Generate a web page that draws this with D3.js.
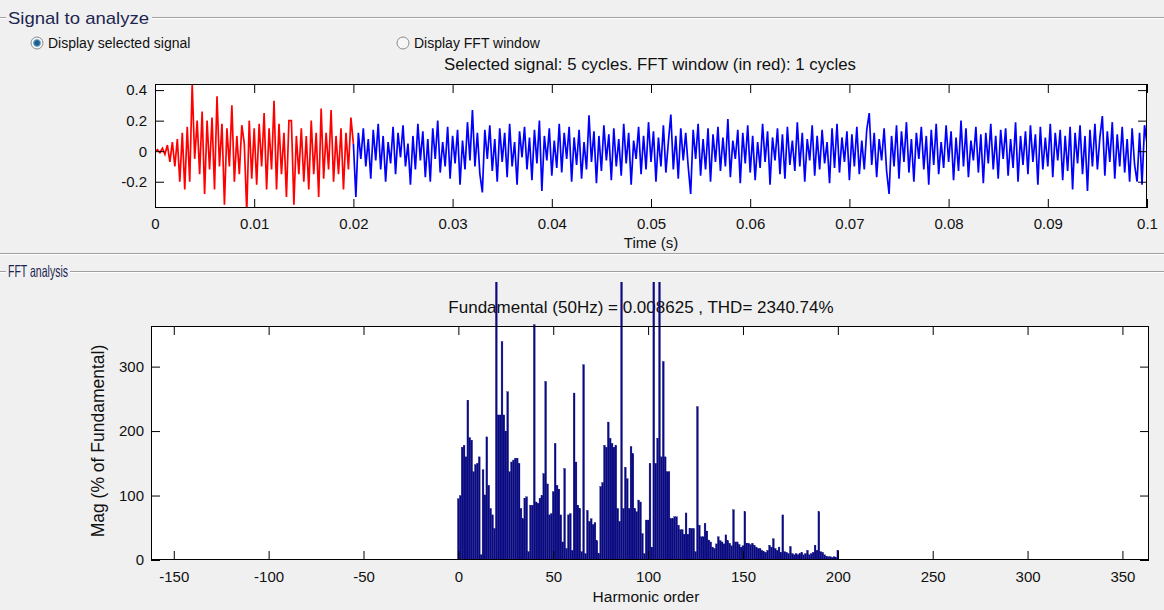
<!DOCTYPE html>
<html>
<head>
<meta charset="utf-8">
<script src="https://cdn.jsdelivr.net/npm/d3@7"></script>
<style>
body{margin:0;background:#f0f0f0;}
svg text{font-family:"Liberation Sans",Arial,sans-serif;fill:#111;}
</style>
</head>
<body>
<svg id="fig" width="1164" height="610"></svg>
<script>
// signal sampled every 0.25 ms, red = FFT window (first cycle), blue = rest
var sampleStep = 0.00025;
var redSignal = [0,0.01,-0.01,0.02,-0.02,0.04,-0.07,0.06,-0.1,0.08,
  -0.2,0.12,-0.25,0.16,-0.2,0.44,-0.05,0.2,-0.15,0.26,
  -0.28,0.2,-0.12,0.22,-0.25,0.36,-0.1,0.18,-0.35,0.15,
  -0.1,0.3,-0.2,0.1,-0.15,0.17,0.05,-0.4,0.2,-0.18,
  0.15,-0.22,0.18,-0.1,0.25,-0.25,0.15,-0.12,0.33,-0.25,
  0.18,-0.15,0.12,-0.3,0.2,0.2,-0.35,0.1,-0.15,0.15,
  -0.2,0.1,-0.25,0.2,-0.15,0.12,-0.3,0.28,-0.18,0.12,
  -0.12,0.27,-0.2,0.1,-0.15,0.15,-0.25,0.12,-0.12,0.22,
  0.05];
var blueSignal = [0.05,-0.30,0.12,-0.05,0.15,-0.1,0.08,-0.18,0.14,-0.06,
  0.18,-0.12,0.1,-0.2,0.06,-0.08,0.16,-0.15,0.12,-0.04,
  0.17,-0.1,0.05,-0.22,0.1,-0.12,0.18,-0.06,0.13,-0.17,
  0.08,-0.2,0.15,-0.05,0.2,-0.14,0.06,-0.1,0.16,-0.18,
  0.1,-0.08,0.14,-0.22,0.07,-0.12,0.19,-0.06,0.27,-0.1,
  0.12,-0.15,-0.27,0.14,-0.05,0.17,-0.13,0.08,-0.2,0.15,
  -0.07,0.12,-0.17,0.18,-0.1,0.06,-0.22,0.13,-0.04,0.16,
  -0.12,0.09,-0.19,0.14,-0.08,0.2,-0.26,0.1,-0.06,0.15,
  -0.16,0.07,-0.11,0.18,-0.14,0.12,-0.05,0.16,-0.2,0.09,
  -0.09,0.14,-0.18,0.06,-0.12,0.235,-0.07,0.13,-0.21,0.1,
  -0.13,0.17,-0.06,0.11,-0.19,0.15,-0.1,0.08,-0.16,0.18,
  -0.08,0.12,-0.22,0.07,-0.05,0.16,-0.15,0.1,-0.12,0.19,
  -0.07,0.13,-0.2,0.09,-0.1,0.17,-0.14,0.06,0.24,-0.12,
  0.1,-0.18,0.15,-0.06,0.12,-0.1,-0.28,0.14,-0.05,0.18,
  -0.16,0.08,-0.12,0.15,-0.2,0.11,-0.07,0.16,-0.13,0.09,
  -0.1,0.21,-0.17,0.07,-0.05,0.14,-0.21,0.12,-0.08,0.17,
  -0.14,0.1,-0.19,0.06,-0.11,0.18,-0.07,0.13,-0.22,0.09,
  -0.06,0.15,-0.15,0.11,-0.18,0.16,-0.09,0.07,-0.13,0.19,
  -0.1,0.12,-0.2,0.08,-0.06,0.17,-0.16,0.1,-0.12,0.14,
  -0.08,0.06,-0.21,0.15,-0.11,0.18,-0.14,0.09,-0.07,0.13,
  -0.19,0.11,-0.1,0.16,-0.15,0.07,-0.12,0.14,0.25,-0.09,
  0.12,-0.17,0.08,-0.06,0.15,-0.13,-0.28,0.1,-0.1,0.17,
  -0.18,0.13,-0.07,0.19,-0.14,0.08,-0.2,0.12,-0.05,0.16,
  -0.12,0.1,-0.22,0.14,-0.09,0.18,-0.15,0.06,-0.11,0.17,
  -0.07,0.13,-0.19,0.09,-0.13,0.2,-0.1,0.15,-0.17,0.07,
  -0.06,0.16,-0.14,0.11,-0.21,0.12,-0.08,0.18,-0.12,0.1,
  -0.18,0.14,-0.05,0.15,-0.16,0.08,-0.11,0.19,-0.2,0.1,
  -0.09,0.13,-0.15,0.17,-0.07,0.11,-0.22,0.16,-0.12,0.09,
  -0.1,0.18,-0.17,0.12,-0.06,0.14,-0.19,0.1,-0.13,0.16,
  -0.25,0.12,-0.08,0.17,-0.15,0.1,-0.26,0.14,-0.1,0.18,
  -0.12,0.09,0.23,-0.16,0.13,-0.07,0.19,-0.18,0.11,-0.1,
  0.16,-0.14,0.08,-0.2,0.15,-0.09,-0.2,0.12,-0.22,0.17,
  0.05];
var blueStart = 0.02;

// FFT magnitude (% of fundamental) for harmonic orders 0..200
var harmonicMag = [95,100,175,178,160,248,190,186,137,148,
  150,160,8,140,101,191,116,80,70,49,
  450,225,225,339,225,200,261,137,152,155,
  158,158,150,80,64,96,98,13,85,85,
  365,90,88,96,100,134,277,118,70,72,
  106,181,116,110,70,28,142,18,70,72,
  15,259,152,85,80,13,303,10,77,60,
  64,55,58,30,10,114,120,178,175,214,
  189,181,175,178,80,60,450,80,144,126,
  80,176,165,80,75,93,90,41,10,62,
  62,150,20,450,150,189,450,160,308,160,
  137,137,64,64,67,67,54,47,47,40,
  73,40,49,49,49,13,238,54,36,36,
  57,45,31,28,20,18,25,36,30,28,
  25,39,30,26,22,78,28,28,24,20,
  22,75,26,26,24,26,23,20,18,18,
  15,13,12,15,23,20,33,18,15,20,
  12,70,13,12,10,21,10,8,10,8,
  10,12,8,10,15,8,10,12,23,15,
  75,13,12,8,6,5,5,4,5,4,
  15];

var timeTicks = [0,0.01,0.02,0.03,0.04,0.05,0.06,0.07,0.08,0.09,0.1];
var signalTicks = [-0.2,0,0.2,0.4];
var orderTicks = [-150,-100,-50,0,50,100,150,200,250,300,350];
var magTicks = [0,100,200,300];

var svg = d3.select("#fig");
var fmt = function(d){ return String(+d.toFixed(3)); };

// etched panel lines
function etched(y, xa, xb){
  svg.append("line").attr("x1",xa).attr("x2",xb).attr("y1",y+0.5).attr("y2",y+0.5).attr("stroke","#a0a0a0");
  svg.append("line").attr("x1",xa).attr("x2",xb).attr("y1",y+1.5).attr("y2",y+1.5).attr("stroke","#ffffff");
}
etched(17,0,6); etched(17,152,1164);
etched(253,0,1164);
etched(271,0,6); etched(271,70,1164);

svg.append("text").text("Signal to analyze").attr("x",8).attr("y",24)
  .attr("font-size",17).attr("textLength",141).attr("lengthAdjust","spacingAndGlyphs")
  .style("fill","#1c2550");
svg.append("text").text("FFT analysis").attr("x",8).attr("y",277)
  .attr("font-size",16.5).attr("textLength",60).attr("lengthAdjust","spacingAndGlyphs")
  .style("fill","#1c2550");

function radio(cx, cy, on, label){
  svg.append("circle").attr("cx",cx).attr("cy",cy).attr("r",6)
    .attr("fill","#f6f6f6").attr("stroke","#8c8c8c");
  if(on){
    svg.append("circle").attr("cx",cx).attr("cy",cy).attr("r",3.5)
      .attr("fill","#20608e").attr("stroke","#7db6dc");
  }
  svg.append("text").text(label).attr("x",cx+11).attr("y",cy+5).attr("font-size",14);
}
radio(37,43,true,"Display selected signal");
radio(403,43,false,"Display FFT window");

svg.append("text").text("Selected signal: 5 cycles. FFT window (in red): 1 cycles")
  .attr("x",650).attr("y",70).attr("text-anchor","middle").attr("font-size",16.8);

// ---- top axes: signal ----
var x1 = d3.scaleLinear().domain([0,0.1]).range([155,1147]);
var y1 = d3.scaleLinear().domain([-0.372,0.44]).range([208,84]);

svg.append("rect").attr("x",155).attr("y",84).attr("width",992).attr("height",124).attr("fill","#fff");
svg.append("clipPath").attr("id","clipTop").append("rect")
  .attr("x",155).attr("y",84).attr("width",992).attr("height",124);

var sigLine = d3.line().x(function(d){ return x1(d[0]); }).y(function(d){ return y1(d[1]); });
var redPts = redSignal.map(function(v,i){ return [i*sampleStep, v]; });
var bluePts = blueSignal.map(function(v,i){ return [blueStart + i*sampleStep, v]; });

svg.append("path").datum(bluePts).attr("d",sigLine).attr("fill","none")
  .attr("stroke","#0000ff").attr("stroke-width",1.7).attr("clip-path","url(#clipTop)");
svg.append("path").datum(redPts).attr("d",sigLine).attr("fill","none")
  .attr("stroke","#ff0000").attr("stroke-width",1.7).attr("clip-path","url(#clipTop)");

function styleAxis(g, size){
  g.select(".domain").remove();
  g.attr("font-family","Liberation Sans, Arial, sans-serif").attr("font-size",size);
  g.selectAll("line").attr("stroke","#000");
  g.selectAll("text").attr("fill","#111");
}
svg.append("g").attr("transform","translate(0,208)")
  .call(d3.axisBottom(x1).tickValues(timeTicks).tickSize(-9).tickPadding(10).tickFormat(fmt))
  .call(styleAxis,15);
svg.append("g").attr("transform","translate(0,84)")
  .call(d3.axisTop(x1).tickValues(timeTicks).tickSize(-9).tickFormat(""))
  .call(styleAxis,15);
svg.append("g").attr("transform","translate(155,0)")
  .call(d3.axisLeft(y1).tickValues(signalTicks).tickSize(-9).tickPadding(8).tickFormat(fmt))
  .call(styleAxis,15);
svg.append("g").attr("transform","translate(1147,0)")
  .call(d3.axisRight(y1).tickValues(signalTicks).tickSize(-9).tickFormat(""))
  .call(styleAxis,15);
svg.append("rect").attr("x",155.5).attr("y",84.5).attr("width",991).attr("height",123)
  .attr("fill","none").attr("stroke","#000");
svg.append("text").text("Time (s)").attr("x",651).attr("y",248)
  .attr("text-anchor","middle").attr("font-size",15);

// ---- bottom axes: FFT ----
var x2 = d3.scaleLinear().domain([-162,364]).range([151,1149]);
var y2 = d3.scaleLinear().domain([0,363]).range([560,326]);

svg.append("rect").attr("x",151).attr("y",326).attr("width",998).attr("height",234).attr("fill","#fff");
svg.append("text").text("Fundamental (50Hz) = 0.008625 , THD= 2340.74%")
  .attr("x",641).attr("y",313).attr("text-anchor","middle").attr("font-size",17);

svg.append("clipPath").attr("id","clipFFT").append("rect")
  .attr("x",151).attr("y",282).attr("width",998).attr("height",278);

svg.append("g").attr("clip-path","url(#clipFFT)")
  .selectAll("rect").data(harmonicMag).enter().append("rect")
  .attr("x",function(d,i){ return x2(i-0.48); })
  .attr("width",function(d,i){ return x2(i+0.48)-x2(i-0.48); })
  .attr("y",function(d){ return y2(d); })
  .attr("height",function(d){ return y2(0)-y2(d); })
  .attr("fill","#0a0a80").attr("stroke","#0a0a80").attr("stroke-width",0.3);

svg.append("g").attr("transform","translate(0,560)")
  .call(d3.axisBottom(x2).tickValues(orderTicks).tickSize(-9).tickPadding(11).tickFormat(fmt))
  .call(styleAxis,15);
svg.append("g").attr("transform","translate(0,326)")
  .call(d3.axisTop(x2).tickValues(orderTicks).tickSize(-9).tickFormat(""))
  .call(styleAxis,15);
svg.append("g").attr("transform","translate(151,0)")
  .call(d3.axisLeft(y2).tickValues(magTicks).tickSize(-9).tickPadding(7).tickFormat(fmt))
  .call(styleAxis,15);
svg.append("g").attr("transform","translate(1149,0)")
  .call(d3.axisRight(y2).tickValues(magTicks).tickSize(-9).tickFormat(""))
  .call(styleAxis,15);
svg.append("rect").attr("x",151.5).attr("y",326.5).attr("width",997).attr("height",233)
  .attr("fill","none").attr("stroke","#000");

svg.append("text").text("Harmonic order").attr("x",646).attr("y",602)
  .attr("text-anchor","middle").attr("font-size",15.5);
svg.append("text").text("Mag (% of Fundamental)")
  .attr("transform","translate(104,441) rotate(-90)")
  .attr("text-anchor","middle").attr("font-size",17.5);
</script>
</body>
</html>
